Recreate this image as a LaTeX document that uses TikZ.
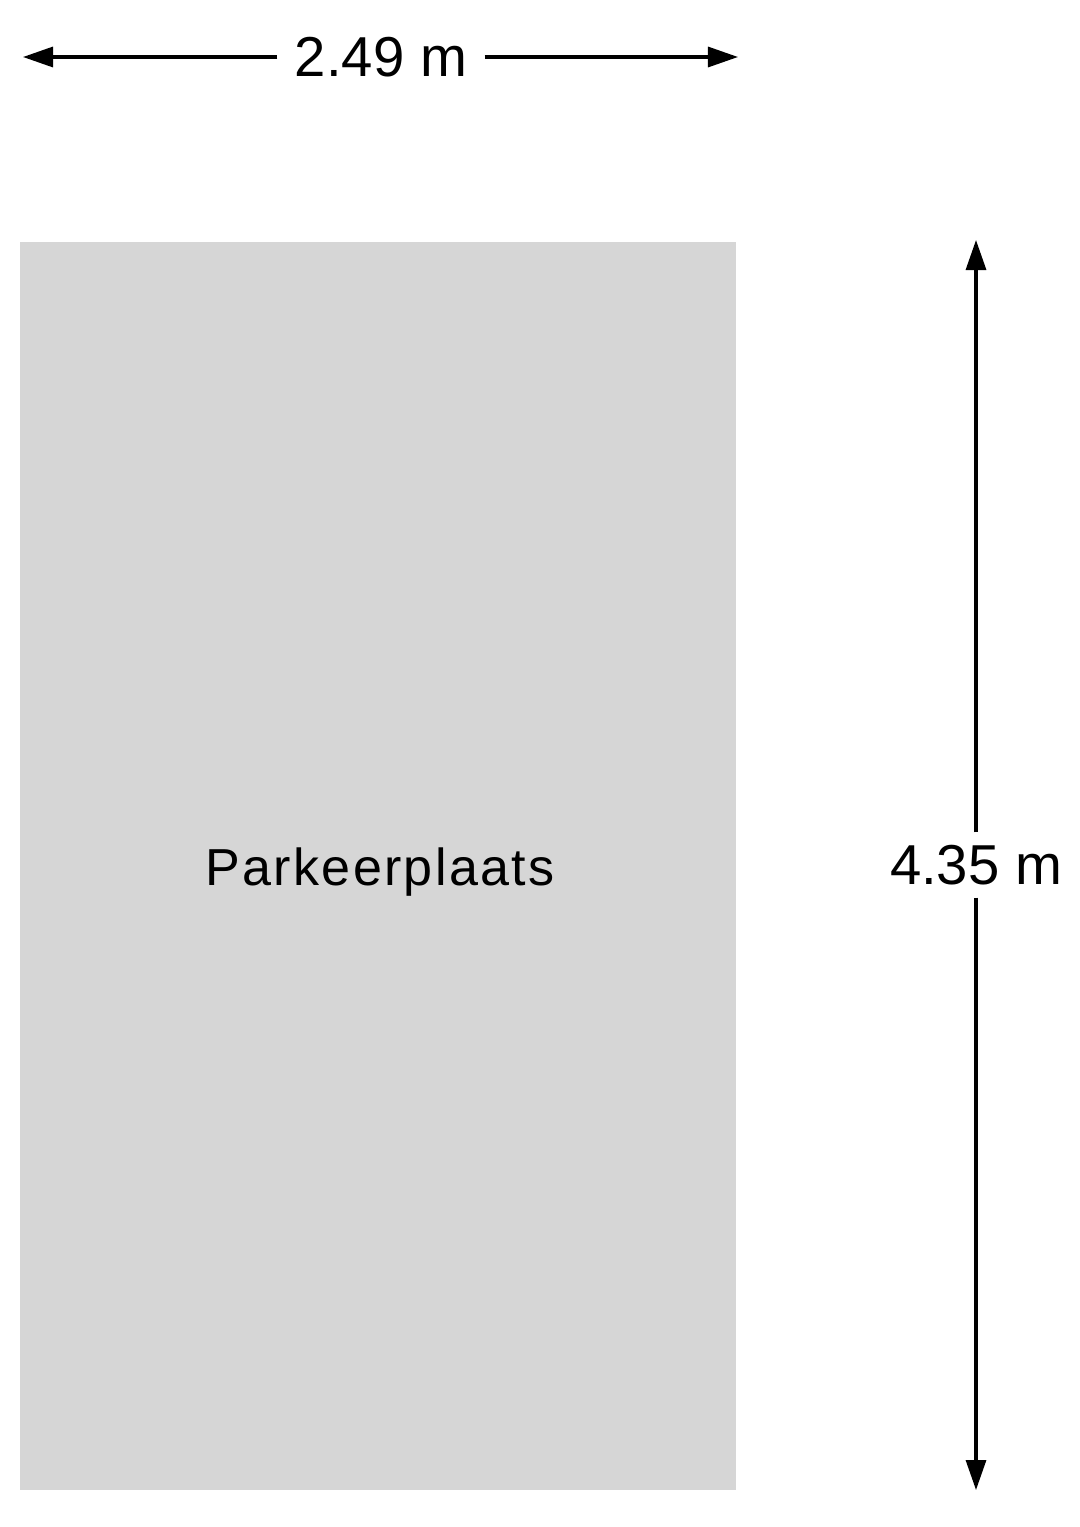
\documentclass[tikz,border=0pt]{standalone}
\usepackage{fontspec}
\setmainfont{Liberation Sans}
\newfontfamily\lotfont[LetterSpace=4.5]{Liberation Sans}
\usetikzlibrary{arrows.meta,positioning}
\definecolor{lotgrey}{RGB}{214,214,214}

\begin{document}
\begin{tikzpicture}[x=0.01cm, y=-0.01cm,
    dim/.style={line width=0.9pt, -{Triangle[length=0.3cm,width=0.2cm]}},
    dimlabel/.style={fill=white, font=\fontsize{16}{19}\selectfont, inner xsep=0.17cm, inner ysep=0.12cm}]
            \useasboundingbox (0,0) rectangle (1080,1527);
            % parking space
            \node[fill=lotgrey, minimum width=7.16cm, minimum height=12.48cm, inner sep=0pt] (lot) at (378,866) {};
            \node[font=\lotfont\fontsize{14.8}{17}\selectfont] (lotname) at (380,872) {Parkeerplaats};

            % width
            \coordinate (wl) at (23,57);
            \coordinate (wr) at (738,57);
            \node[dimlabel] (w) at (381,57) {2.49 m};
            \draw[dim] (w.west) -- (wl);
            \draw[dim] (w.east) -- (wr);

            % depth
            \coordinate (ht) at (976,240);
            \coordinate (hb) at (976,1490);
            \node[dimlabel] (h) at (976,865) {4.35 m};
            \draw[dim] (h.north) -- (ht);
            \draw[dim] (h.south) -- (hb);
        \end{tikzpicture}
\end{document}
